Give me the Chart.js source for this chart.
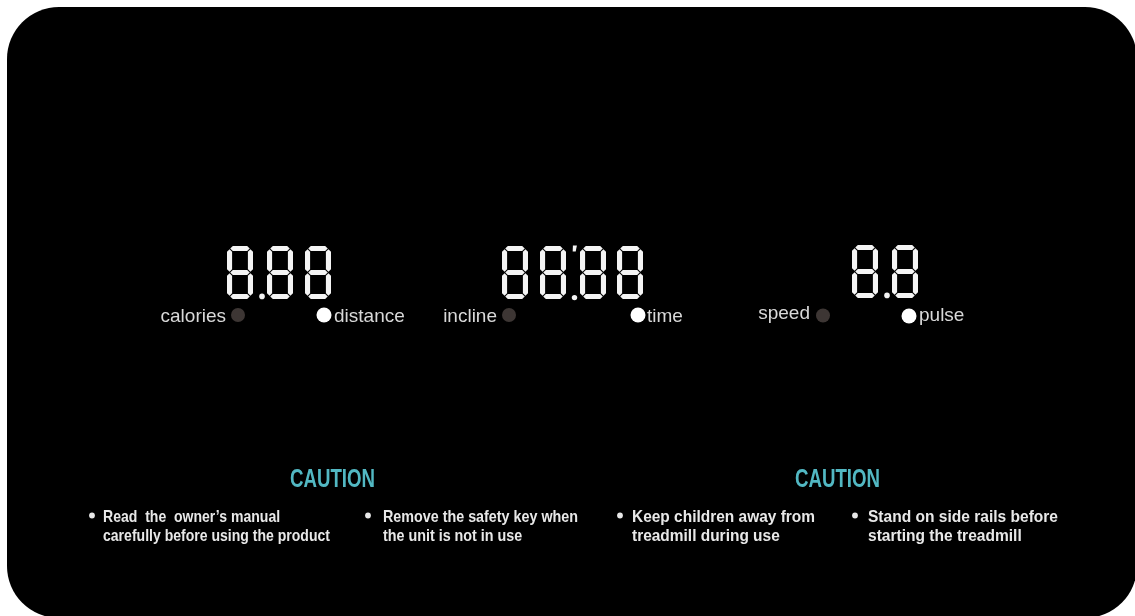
<!DOCTYPE html>
<html>
<head>
<meta charset="utf-8">
<script src="https://cdn.jsdelivr.net/npm/chart.js@4.4.1/dist/chart.umd.min.js"></script>
<style>
  html, body { margin: 0; padding: 0; background: #ffffff; }
  #wrap { width: 1135px; height: 616px; position: relative; }
</style>
</head>
<body>
<div id="wrap"><canvas id="c" width="1135" height="616"></canvas></div>
<script>
// ---- content (data) ----
const displayValues = ["8.88", "88:88", "8.8"];
const indicatorLabels = ["calories", "distance", "incline", "time", "speed", "pulse"];
const indicatorLit = [false, true, false, true, false, true];
const cautionTitles = ["CAUTION", "CAUTION"];
const cautionItems = [
  ["Read  the  owner\u2019s manual", "carefully before using the product"],
  ["Remove the safety key when", "the unit is not in use"],
  ["Keep children away from", "treadmill during use"],
  ["Stand on side rails before", "starting the treadmill"]
];

// ---- layout (positions / sizes / styles) ----
const PANEL = { x0: 7, y0: 7, x1: 1137, y1: 618, r: 52, color: "#000000" };
const DIGIT = { w: 26, h: 53, t: 5.1, gap: 0.7, color: "#f4f4f4" };
const displayLayout = [
  { top: 246, xs: [227, 262, 267, 305] },
  { top: 246, xs: [502, 540, 574.5, 580, 617] },
  { top: 245, xs: [852, 887, 892] }
];
const indicatorLayout = [
  { x: 238, y: 315,   r: 7,   align: "right", tx: 226, ty: 322 },
  { x: 324, y: 315,   r: 7.5, align: "left",  tx: 334, ty: 322 },
  { x: 509, y: 315,   r: 7,   align: "right", tx: 497, ty: 322 },
  { x: 638, y: 315,   r: 7.5, align: "left",  tx: 647, ty: 322 },
  { x: 823, y: 315.5, r: 7,   align: "right", tx: 810, ty: 319 },
  { x: 909, y: 316,   r: 7.5, align: "left",  tx: 919, ty: 321 }
];
const LIT = "#ffffff", UNLIT = "#3d3634", LABEL = "#d9d9d9";
const titleLayout = [ { cx: 332.5, base: 487, w: 85 }, { cx: 837.5, base: 487, w: 85 } ];
const TITLE_COLOR = "#52b8c3";
const itemLayout = [
  { bx: 92,  tx: 103, w: 227 },
  { bx: 368, tx: 383, w: 195 },
  { bx: 620, tx: 632, w: 183 },
  { bx: 855, tx: 868, w: 190 }
];
const ITEM = { base1: 522, base2: 541, bulletY: 515.5, size: 16.5, color: "#e8e8e8" };

// ---- drawing helpers ----
function hexH(ctx, x0, x1, yc, t) {
  ctx.beginPath();
  ctx.moveTo(x0, yc);
  ctx.lineTo(x0 + t / 2, yc - t / 2);
  ctx.lineTo(x1 - t / 2, yc - t / 2);
  ctx.lineTo(x1, yc);
  ctx.lineTo(x1 - t / 2, yc + t / 2);
  ctx.lineTo(x0 + t / 2, yc + t / 2);
  ctx.closePath();
  ctx.fill();
}
function hexV(ctx, xc, y0, y1, t) {
  ctx.beginPath();
  ctx.moveTo(xc, y0);
  ctx.lineTo(xc + t / 2, y0 + t / 2);
  ctx.lineTo(xc + t / 2, y1 - t / 2);
  ctx.lineTo(xc, y1);
  ctx.lineTo(xc - t / 2, y1 - t / 2);
  ctx.lineTo(xc - t / 2, y0 + t / 2);
  ctx.closePath();
  ctx.fill();
}
function drawEight(ctx, left, top, w, h, t, g) {
  const xl = left + t / 2, xr = left + w - t / 2;
  const yt = top + t / 2, yb = top + h - t / 2, ym = (yt + yb) / 2;
  hexH(ctx, xl + g, xr - g, yt, t);           // a
  hexV(ctx, xr, yt + g, ym - g, t);           // b
  hexV(ctx, xr, ym + g, yb - g, t);           // c
  hexH(ctx, xl + g, xr - g, yb, t);           // d
  hexV(ctx, xl, ym + g, yb - g, t);           // e
  hexV(ctx, xl, yt + g, ym - g, t);           // f
  hexH(ctx, xl + g, xr - g, ym, t);           // g
}
function rr(ctx, x, y, w, h, r) {
  ctx.beginPath();
  ctx.moveTo(x + r, y);
  ctx.lineTo(x + w - r, y);
  ctx.arcTo(x + w, y, x + w, y + r, r);
  ctx.lineTo(x + w, y + h - r);
  ctx.arcTo(x + w, y + h, x + w - r, y + h, r);
  ctx.lineTo(x + r, y + h);
  ctx.arcTo(x, y + h, x, y + h - r, r);
  ctx.lineTo(x, y + r);
  ctx.arcTo(x, y, x + r, y, r);
  ctx.closePath();
}

const consolePlugin = {
  id: "console",
  beforeDraw(chart) {
    const ctx = chart.ctx;
    const sx = chart.scales.x, sy = chart.scales.y;
    const X = v => sx.getPixelForValue(v);
    const Y = v => sy.getPixelForValue(v);
    ctx.save();
    // panel
    ctx.fillStyle = PANEL.color;
    rr(ctx, X(PANEL.x0), Y(PANEL.y0), X(PANEL.x1) - X(PANEL.x0), Y(PANEL.y1) - Y(PANEL.y0), PANEL.r);
    ctx.fill();

    ctx.filter = "blur(0.45px)";
    // seven-segment displays
    ctx.fillStyle = DIGIT.color;
    displayValues.forEach((str, di) => {
      const lay = displayLayout[di];
      const top = Y(lay.top);
      [...str].forEach((ch, ci) => {
        const x = X(lay.xs[ci]);
        if (ch === "8") {
          drawEight(ctx, x, top, DIGIT.w, DIGIT.h, DIGIT.t, DIGIT.gap);
        } else if (ch === ".") {
          ctx.beginPath();
          ctx.arc(x, top + DIGIT.h - 2.6, 2.8, 0, Math.PI * 2);
          ctx.fill();
        } else if (ch === ":") {
          ctx.beginPath();
          ctx.arc(x, top + DIGIT.h - 1.4, 2.7, 0, Math.PI * 2);
          ctx.fill();
          ctx.beginPath();
          ctx.moveTo(x - 1.6, top - 0.5);
          ctx.lineTo(x + 2.4, top - 0.5);
          ctx.lineTo(x + 1.2, top + 5.5);
          ctx.lineTo(x - 1.8, top + 5.5);
          ctx.closePath();
          ctx.fill();
        }
      });
    });

    // indicators
    ctx.font = "19px 'Liberation Sans', Arial, sans-serif";
    ctx.textBaseline = "alphabetic";
    indicatorLabels.forEach((lab, i) => {
      const L = indicatorLayout[i];
      ctx.fillStyle = indicatorLit[i] ? LIT : UNLIT;
      ctx.beginPath();
      ctx.arc(X(L.x), Y(L.y), L.r, 0, Math.PI * 2);
      ctx.fill();
      ctx.fillStyle = LABEL;
      ctx.textAlign = L.align;
      ctx.fillText(lab, X(L.tx), Y(L.ty));
    });

    // caution titles
    ctx.textAlign = "left";
    ctx.font = "bold 26.5px 'Liberation Sans', Arial, sans-serif";
    ctx.fillStyle = TITLE_COLOR;
    cautionTitles.forEach((t, i) => {
      const L = titleLayout[i];
      const m = ctx.measureText(t).width;
      const k = L.w / m;
      ctx.save();
      ctx.translate(X(L.cx) - L.w / 2, Y(L.base));
      ctx.scale(k, 1);
      ctx.fillText(t, 0, 0);
      ctx.restore();
    });

    // caution items
    ctx.font = "bold " + ITEM.size + "px 'Liberation Sans', Arial, sans-serif";
    ctx.fillStyle = ITEM.color;
    cautionItems.forEach((lines, i) => {
      const L = itemLayout[i];
      const m = Math.max(...lines.map(s => ctx.measureText(s).width));
      const k = L.w / m;
      ctx.beginPath();
      ctx.arc(X(L.bx), Y(ITEM.bulletY), 2.9, 0, Math.PI * 2);
      ctx.fill();
      [ITEM.base1, ITEM.base2].forEach((b, j) => {
        ctx.save();
        ctx.translate(X(L.tx), Y(b));
        ctx.scale(k, 1);
        ctx.fillText(lines[j], 0, 0);
        ctx.restore();
      });
    });
    ctx.restore();
  }
};

new Chart(document.getElementById("c"), {
  type: "scatter",
  data: { datasets: [{ data: [], pointRadius: 0 }] },
  options: {
    responsive: false,
    animation: false,
    devicePixelRatio: 1,
    layout: { padding: 0 },
    plugins: { legend: { display: false }, tooltip: { enabled: false } },
    scales: {
      x: { type: "linear", min: 0, max: 1135, display: false },
      y: { type: "linear", min: 0, max: 616, reverse: true, display: false }
    }
  },
  plugins: [consolePlugin]
});
</script>
</body>
</html>
